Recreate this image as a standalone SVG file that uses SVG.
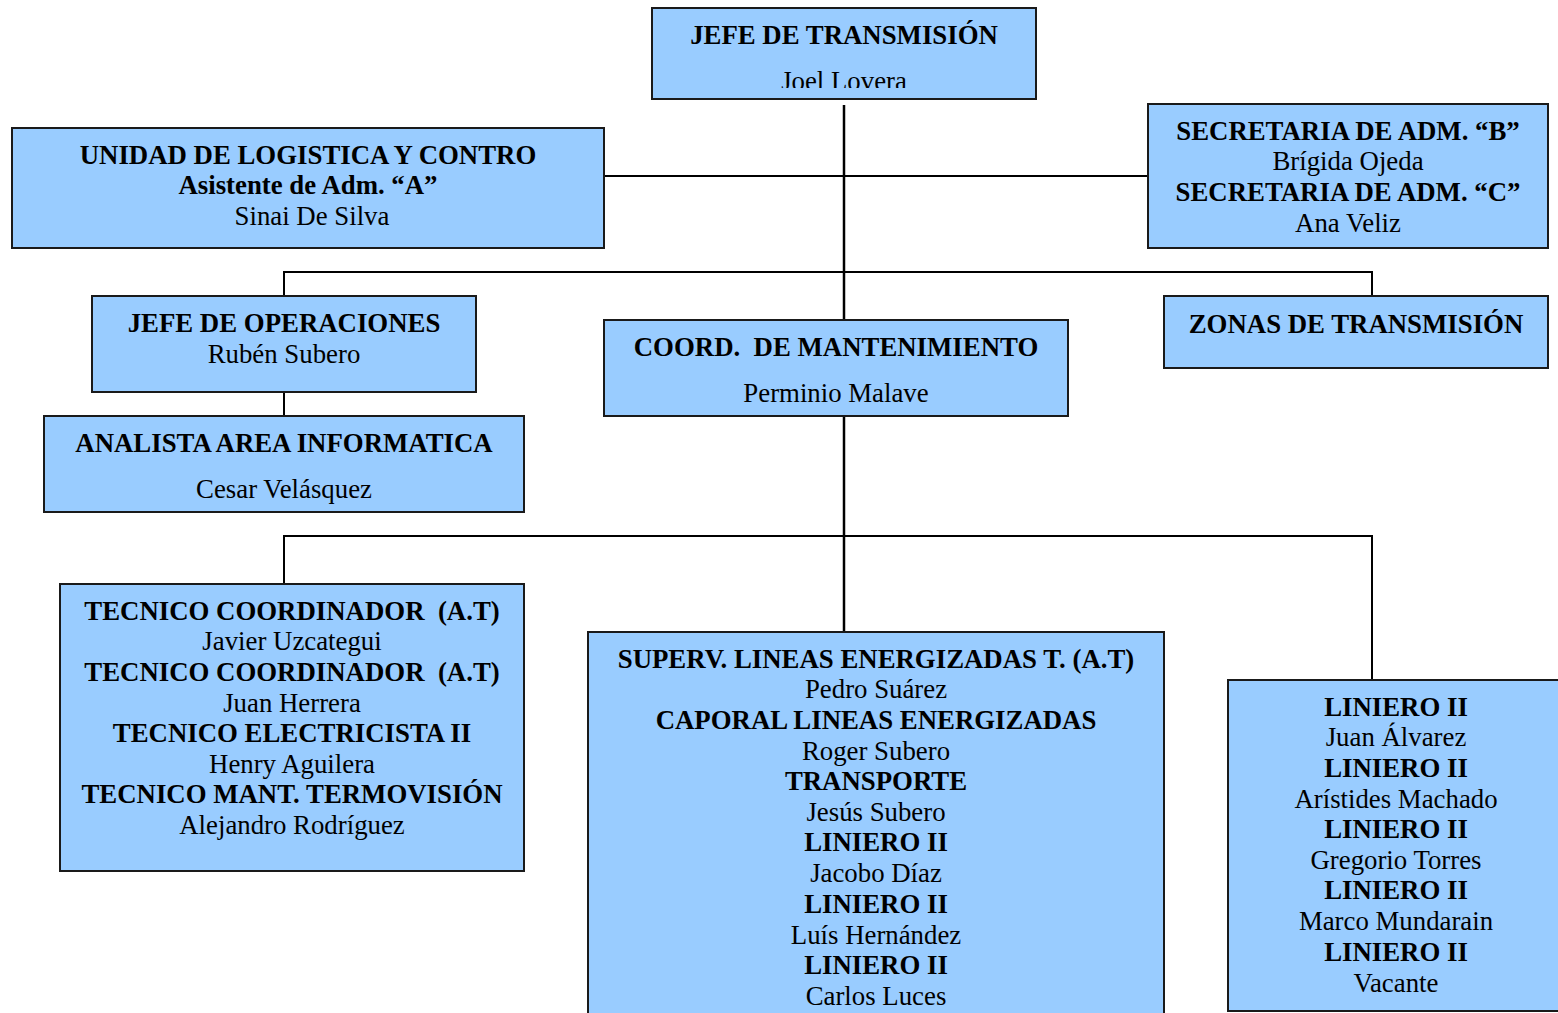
<svg xmlns="http://www.w3.org/2000/svg" width="1558" height="1013" viewBox="0 0 1558 1013">
  <style>
    .box { fill: #99CCFF; stroke: #1a1a1a; stroke-width: 2; }
    .ln { stroke: #000; stroke-width: 2; fill: none; }
    .trunk { stroke: #000; stroke-width: 2.5; fill: none; }
    text { font-family: "Liberation Serif", "Times New Roman", serif; font-size: 26.8px; fill: #000; text-anchor: middle; white-space: pre; }
    .b { font-weight: bold; }
  </style>
  <defs>
    <clipPath id="clipTop">
      <rect x="652" y="8" width="384" height="80"/>
    </clipPath>
  </defs>
  <rect width="1558" height="1013" fill="#fff"/>

  <!-- connectors -->
  <g id="connectors">
    <line class="trunk" x1="844" y1="105" x2="844" y2="320"/>
    <line class="ln" x1="604" y1="176" x2="1148" y2="176"/>
    <polyline class="ln" points="284,296 284,272 1372,272 1372,296"/>
    <line class="ln" x1="284" y1="392" x2="284" y2="416"/>
    <line class="trunk" x1="844" y1="416" x2="844" y2="632"/>
    <polyline class="ln" points="284,584 284,536 1372,536 1372,680"/>
  </g>

  <g id="jefe-transmision">
    <rect class="box" x="652" y="8" width="384" height="91"/>
    <text class="b" x="844" y="44">JEFE DE TRANSMISIÓN</text>
    <text x="844" y="90" clip-path="url(#clipTop)">Joel Lovera</text>
  </g>

  <g id="unidad-logistica">
    <rect class="box" x="12" y="128" width="592" height="120"/>
    <text class="b" x="308" y="164">UNIDAD DE LOGISTICA Y CONTRO</text>
    <text class="b" x="308" y="194">Asistente de Adm. “A”</text>
    <text x="312" y="225">Sinai De Silva</text>
  </g>

  <g id="secretaria">
    <rect class="box" x="1148" y="104" width="400" height="144"/>
    <text class="b" x="1348" y="140">SECRETARIA DE ADM. “B”</text>
    <text x="1348" y="170">Brígida Ojeda</text>
    <text class="b" x="1348" y="201">SECRETARIA DE ADM. “C”</text>
    <text x="1348" y="232">Ana Veliz</text>
  </g>

  <g id="jefe-operaciones">
    <rect class="box" x="92" y="296" width="384" height="96"/>
    <text class="b" x="284" y="332">JEFE DE OPERACIONES</text>
    <text x="284" y="363">Rubén Subero</text>
  </g>

  <g id="coord-mantenimiento">
    <rect class="box" x="604" y="320" width="464" height="96"/>
    <text class="b" x="836" y="356">COORD.  DE MANTENIMIENTO</text>
    <text x="836" y="402">Perminio Malave</text>
  </g>

  <g id="zonas-transmision">
    <rect class="box" x="1164" y="296" width="384" height="72"/>
    <text class="b" x="1356" y="333">ZONAS DE TRANSMISIÓN</text>
  </g>

  <g id="analista">
    <rect class="box" x="44" y="416" width="480" height="96"/>
    <text class="b" x="284" y="452">ANALISTA AREA INFORMATICA</text>
    <text x="284" y="498">Cesar Velásquez</text>
  </g>

  <g id="tecnicos">
    <rect class="box" x="60" y="584" width="464" height="287"/>
    <text class="b" x="292" y="620">TECNICO COORDINADOR  (A.T)</text>
    <text x="292" y="650">Javier Uzcategui</text>
    <text class="b" x="292" y="681">TECNICO COORDINADOR  (A.T)</text>
    <text x="292" y="712">Juan Herrera</text>
    <text class="b" x="292" y="742">TECNICO ELECTRICISTA II</text>
    <text x="292" y="773">Henry Aguilera</text>
    <text class="b" x="292" y="803">TECNICO MANT. TERMOVISIÓN</text>
    <text x="292" y="834">Alejandro Rodríguez</text>
  </g>

  <g id="supervision-lineas">
    <rect class="box" x="588" y="632" width="576" height="400"/>
    <text class="b" x="876" y="668">SUPERV. LINEAS ENERGIZADAS T. (A.T)</text>
    <text x="876" y="698">Pedro Suárez</text>
    <text class="b" x="876" y="729">CAPORAL LINEAS ENERGIZADAS</text>
    <text x="876" y="760">Roger Subero</text>
    <text class="b" x="876" y="790">TRANSPORTE</text>
    <text x="876" y="821">Jesús Subero</text>
    <text class="b" x="876" y="851">LINIERO II</text>
    <text x="876" y="882">Jacobo Díaz</text>
    <text class="b" x="876" y="913">LINIERO II</text>
    <text x="876" y="944">Luís Hernández</text>
    <text class="b" x="876" y="974">LINIERO II</text>
    <text x="876" y="1005">Carlos Luces</text>
  </g>

  <g id="linieros">
    <rect class="box" x="1228" y="680" width="340" height="331"/>
    <text class="b" x="1396" y="716">LINIERO II</text>
    <text x="1396" y="746">Juan Álvarez</text>
    <text class="b" x="1396" y="777">LINIERO II</text>
    <text x="1396" y="808">Arístides Machado</text>
    <text class="b" x="1396" y="838">LINIERO II</text>
    <text x="1396" y="869">Gregorio Torres</text>
    <text class="b" x="1396" y="899">LINIERO II</text>
    <text x="1396" y="930">Marco Mundarain</text>
    <text class="b" x="1396" y="961">LINIERO II</text>
    <text x="1396" y="992">Vacante</text>
  </g>
</svg>
